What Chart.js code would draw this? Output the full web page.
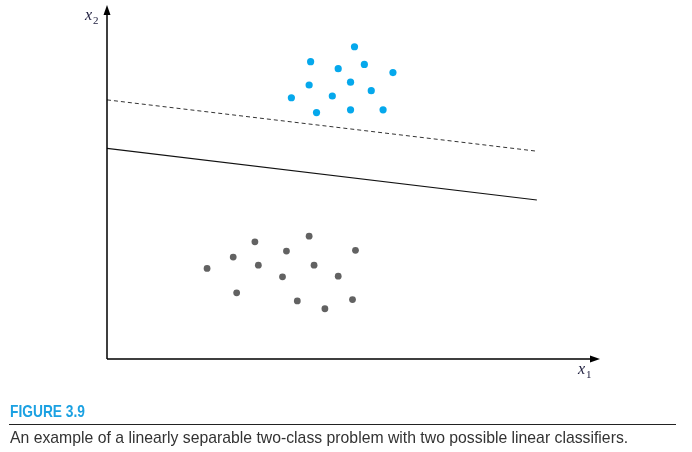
<!DOCTYPE html>
<html>
<head>
<meta charset="utf-8">
<script src="https://cdn.jsdelivr.net/npm/chart.js@4/dist/chart.umd.min.js"></script>
<style>
  body { margin: 0; background: #fff; }
  #wrap { position: relative; width: 692px; height: 452px; }
  #myChart { position: absolute; left: 0; top: 0; }
  .fig { position: absolute; left: 10px; top: 403px; font-family: "Liberation Sans Narrow", "Liberation Sans", sans-serif;
         font-weight: bold; font-size: 17px; line-height: 17px; color: #1ba1e2;
         transform: scaleX(0.81); transform-origin: 0 0; white-space: nowrap; }
  .rule { position: absolute; left: 9px; top: 424px; width: 667px; height: 0; border-top: 1.4px solid #222; }
  .cap { position: absolute; left: 10px; top: 429px; font-family: "Liberation Sans Narrow", "Liberation Sans", sans-serif;
         font-size: 17px; line-height: 17px; color: #333;
         transform: scaleX(0.928); transform-origin: 0 0; white-space: nowrap; }
</style>
</head>
<body>
<div id="wrap">
  <canvas id="myChart" width="692" height="452"></canvas>
  <div class="fig">FIGURE 3.9</div>
  <div class="rule"></div>
  <div class="cap">An example of a linearly separable two-class problem with two possible linear classifiers.</div>
</div>
<script>
/* class 1 (blue, upper cluster) */
let blueX = [5.02, 4.13, 4.69, 5.22, 5.80, 4.10, 4.94, 5.36, 3.74, 4.57, 4.25, 4.94, 5.60];
let blueY = [8.82, 8.40, 8.20, 8.32, 8.09, 7.74, 7.82, 7.58, 7.38, 7.43, 6.96, 7.04, 7.04];

/* class 2 (gray, lower cluster) */
let grayX = [3.00, 4.10, 2.56, 3.64, 5.04, 2.03, 3.07, 4.20, 3.56, 4.69, 2.63, 3.86, 4.98, 4.42];
let grayY = [3.31, 3.47, 2.88, 3.05, 3.07, 2.56, 2.65, 2.65, 2.32, 2.34, 1.87, 1.64, 1.68, 1.42];

/* the two classifiers, end points */
let dashedX = [0, 8.72];
let dashedY = [7.32, 5.87];
let solidX = [0, 8.72];
let solidY = [5.95, 4.49];

function pts(xs, ys) {
  return xs.map((x, i) => ({ x: x, y: ys[i] }));
}

/* axes with arrow heads and the x1 / x2 labels */
const axesPlugin = {
  id: 'axes',
  afterDraw(chart) {
    const c = chart.ctx;
    const sx = chart.scales.x, sy = chart.scales.y;
    const x0 = sx.getPixelForValue(0), y0 = sy.getPixelForValue(0);
    const xEnd = sx.getPixelForValue(10), yEnd = sy.getPixelForValue(10);
    c.save();
    c.strokeStyle = '#000';
    c.fillStyle = '#000';
    c.lineWidth = 1.5;
    c.beginPath();
    c.moveTo(x0, y0);
    c.lineTo(xEnd - 6, y0);
    c.moveTo(x0, y0);
    c.lineTo(x0, yEnd + 6);
    c.stroke();
    // arrow heads
    c.beginPath();
    c.moveTo(xEnd, y0);
    c.lineTo(xEnd - 10, y0 - 3.5);
    c.lineTo(xEnd - 10, y0 + 3.5);
    c.closePath();
    c.fill();
    c.beginPath();
    c.moveTo(x0, yEnd);
    c.lineTo(x0 - 3.5, yEnd + 10);
    c.lineTo(x0 + 3.5, yEnd + 10);
    c.closePath();
    c.fill();
    // labels
    c.fillStyle = '#1c1c3c';
    c.textBaseline = 'alphabetic';
    c.font = 'italic 16px "Liberation Serif", serif';
    c.fillText('x', x0 - 22, yEnd + 15);
    c.fillText('x', xEnd - 22, y0 + 15);
    c.font = '11px "Liberation Serif", serif';
    c.fillText('2', x0 - 14, yEnd + 19);
    c.fillText('1', xEnd - 14, y0 + 19);
    c.restore();
  }
};

var ctx = document.getElementById('myChart');

var myChart = new Chart(ctx, {
  type: 'scatter',
  data: {
    datasets: [
      {
        label: 'Class 1',
        data: pts(blueX, blueY),
        backgroundColor: '#05a8ec',
        borderWidth: 0,
        pointRadius: 3.6,
      },
      {
        label: 'Class 2',
        data: pts(grayX, grayY),
        backgroundColor: '#626262',
        borderWidth: 0,
        pointRadius: 3.4,
      },
      {
        label: 'Classifier A',
        data: pts(dashedX, dashedY),
        showLine: true,
        borderColor: '#333',
        borderWidth: 1,
        borderDash: [4, 3],
        pointRadius: 0,
      },
      {
        label: 'Classifier B',
        data: pts(solidX, solidY),
        showLine: true,
        borderColor: '#111',
        borderWidth: 1.1,
        pointRadius: 0,
      },
    ],
  },
  options: {
    responsive: false,
    animation: false,
    layout: { padding: { left: 107, top: 5, right: 92, bottom: 93 } },
    plugins: { legend: { display: false }, tooltip: { enabled: false } },
    scales: {
      x: { type: 'linear', min: 0, max: 10, display: false },
      y: { type: 'linear', min: 0, max: 10, display: false },
    },
  },
  plugins: [axesPlugin],
});
</script>
</body>
</html>
